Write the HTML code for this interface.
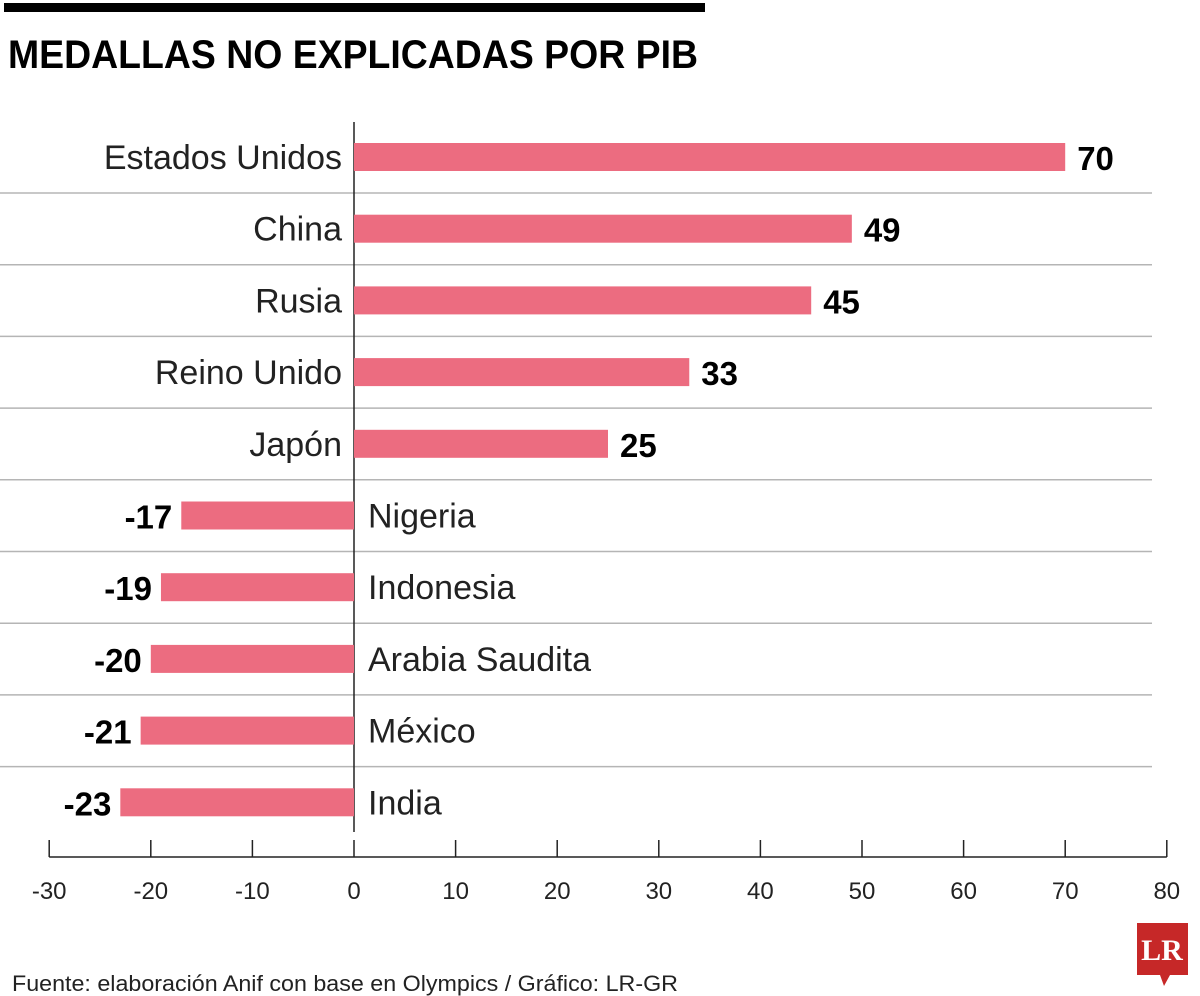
<!DOCTYPE html>
<html><head><meta charset="utf-8"><style>
html,body{margin:0;padding:0;background:#fff;}
svg{display:block;font-family:"Liberation Sans",sans-serif;}
</style></head><body>
<svg id="chart" width="1200" height="996" viewBox="0 0 1200 996">
<rect x="4" y="3" width="701" height="9" fill="#000"/>
<text x="8" y="68" font-size="40" font-weight="bold" textLength="690" lengthAdjust="spacingAndGlyphs">MEDALLAS NO EXPLICADAS POR PIB</text>
<g id="grid"></g>
<g id="bars"></g>
<g id="axis"></g>
<text x="12" y="991" font-size="22" fill="#222" textLength="666" lengthAdjust="spacingAndGlyphs">Fuente: elaboración Anif con base en Olympics / Gráfico: LR-GR</text>
<g>
<path d="M1137 923 H1188 V975 H1170 L1164 986 L1160 975 H1137 Z" fill="#c62828"/>
<text x="1162" y="960" font-family="Liberation Serif,serif" font-size="30" font-weight="bold" fill="#fff" text-anchor="middle">LR</text>
</g>
</svg>
<script>
const categories=["Estados Unidos","China","Rusia","Reino Unido","Japón","Nigeria","Indonesia","Arabia Saudita","México","India"];
const values=[70,49,45,33,25,-17,-19,-20,-21,-23];
const ticks=[-30,-20,-10,0,10,20,30,40,50,60,70,80];
const NS="http://www.w3.org/2000/svg";
const x0=354, ppu=10.16, y0=157, step=71.7;
const xs=v=>x0+v*ppu;
const ys=i=>y0+i*step;
function mk(tag,attrs,parent,txt){const e=document.createElementNS(NS,tag);for(const k in attrs)e.setAttribute(k,attrs[k]);if(txt!==undefined)e.textContent=txt;parent.appendChild(e);return e;}
const grid=document.getElementById('grid'),bars=document.getElementById('bars'),axis=document.getElementById('axis');
for(let i=0;i<categories.length-1;i++){
  const l=mk('line',{x1:0,x2:1152,y1:ys(i)+36,y2:ys(i)+36,stroke:'#b5b5b5','stroke-width':1.5},grid);
  
  
}
const zl=mk('line',{x1:x0,x2:x0,y1:122,y2:832,stroke:'#222','stroke-width':1.5},grid);


categories.forEach((c,i)=>{
  const v=values[i],y=ys(i);
  const b=mk('rect',{x:Math.min(xs(0),xs(v)),y:y-14,width:Math.abs(xs(v)-xs(0)),height:28,fill:'#ec6c80'},bars);
  
  
  const pos=v>=0;
  const lab=mk('text',{x:pos?342:368,y:y+12,'font-size':34,'text-anchor':pos?'end':'start',fill:'#222'},bars,c);
  
  
  const vl=mk('text',{x:pos?xs(v)+12:xs(v)-9,y:y+13,'font-size':33,'font-weight':'bold','text-anchor':pos?'start':'end',fill:'#000'},bars,String(v));
  
  
});
const al=mk('line',{x1:xs(ticks[0]),x2:xs(ticks[ticks.length-1]),y1:857,y2:857,stroke:'#222','stroke-width':1.5},axis);


ticks.forEach(t=>{
  const tk=mk('line',{x1:xs(t),x2:xs(t),y1:840,y2:857,stroke:'#222','stroke-width':1.5},axis);
  
  
  const tl=mk('text',{x:xs(t),y:899,'font-size':24,'text-anchor':'middle',fill:'#222'},axis,String(t));
  
  
});
</script>
</body></html>
